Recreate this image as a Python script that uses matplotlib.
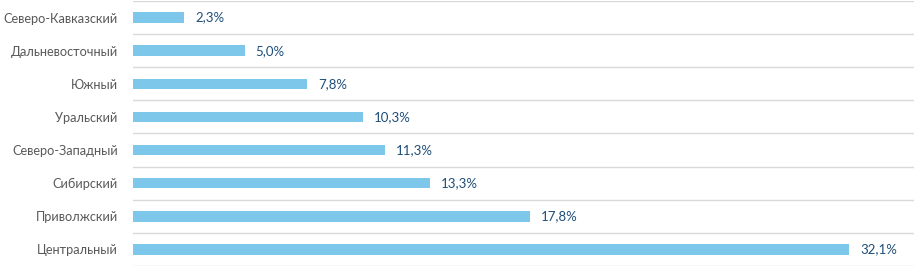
import numpy as np
import matplotlib.pyplot as plt

regions = ['Северо-Кавказский', 'Дальневосточный', 'Южный', 'Уральский',
           'Северо-Западный', 'Сибирский', 'Приволжский', 'Центральный']
shares = [2.3, 5.0, 7.8, 10.3, 11.3, 13.3, 17.8, 32.1]
labels = ['2,3%', '5,0%', '7,8%', '10,3%', '11,3%', '13,3%', '17,8%', '32,1%']

plt.rcParams['font.family'] = ['Lato', 'DejaVu Sans']

fig = plt.figure(figsize=(9.14, 2.67), dpi=100)
ax = fig.add_axes([133 / 914, 0.004, 1 - 133 / 914, 0.992])

y = np.arange(len(regions))
ax.barh(y, shares, height=0.32, color='#7CC7EA')

for yi, v, lab in zip(y, shares, labels):
    ax.annotate(lab, (v, yi), xytext=(8, 0), textcoords='offset points',
                va='center', ha='left', fontsize=9.5, color='#1F4E79')

ax.set_xlim(0, 35)
ax.set_ylim(len(regions) - 0.5, -0.5)
ax.set_yticks(y)
ax.set_yticklabels(regions, fontsize=9.2, color='#595959')
ax.set_yticks(np.arange(len(regions) + 1) - 0.5, minor=True)
ax.grid(True, which='minor', axis='y', color='#D9D9D9', linewidth=1)
ax.tick_params(axis='y', which='both', length=0, pad=11)
ax.set_xticks([])
for s in ax.spines.values():
    s.set_visible(False)

fig.savefig('out.png', dpi=100)
